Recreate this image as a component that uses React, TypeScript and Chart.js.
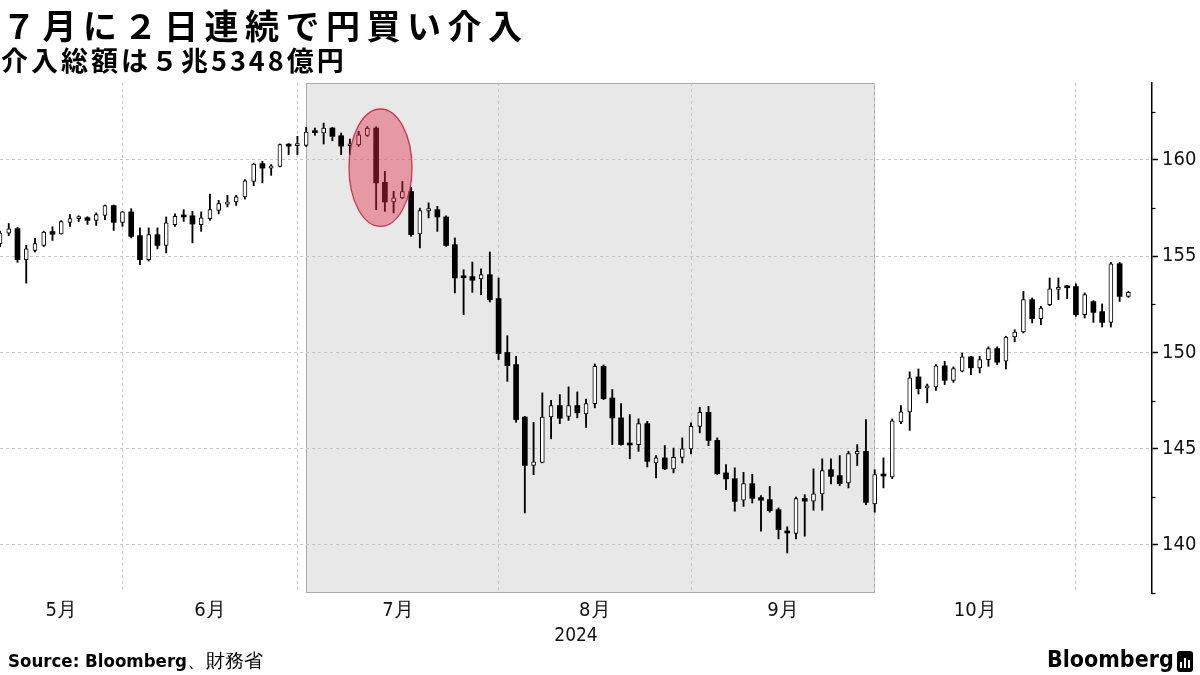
import React, { useEffect, useRef } from 'react';
import { Chart, registerables } from 'chart.js';

Chart.register(...registerables);

// ---- categories: trading days (2024) ----
const monthNumbers = [5, 6, 7, 8, 9, 10, 11];
const mayDays = [13, 14, 15, 16, 17, 20, 21, 22, 23, 24, 27, 28, 29, 30, 31];
const junDays = [3, 4, 5, 6, 7, 10, 11, 12, 13, 14, 17, 18, 19, 20, 21, 24, 25, 26, 27, 28];
const julDays = [1, 2, 3, 4, 5, 8, 9, 10, 11, 12, 15, 16, 17, 18, 19, 22, 23, 24, 25, 26, 29, 30, 31];
const augDays = [1, 2, 5, 6, 7, 8, 9, 12, 13, 14, 15, 16, 19, 20, 21, 22, 23, 26, 27, 28, 29, 30];
const sepDays = [2, 3, 4, 5, 6, 9, 10, 11, 12, 13, 16, 17, 18, 19, 20, 23, 24, 25, 26, 27, 30];
const octDays = [1, 2, 3, 4, 7, 8, 9, 10, 11, 14, 15, 16, 17, 18, 21, 22, 23, 24, 25, 28, 29, 30, 31];
const novDays = [1, 4, 5, 6, 7, 8];
const monthLabels = ['5月', '6月', '7月', '8月', '9月', '10月', ''];
const yearLabel = '2024';

// ---- series: USD/JPY daily OHLC ----
const open = [
  155.65, 156.2, 156.43, 154.82, 155.3, 155.56, 156.28, 156.16, 156.76, 156.95, 157.0, 156.86, 157.12, 157.63, 156.76,
  157.3, 156.07, 154.82, 156.12, 155.56, 156.64, 157.1, 157.1, 156.64, 156.95, 157.38, 157.71, 157.82, 158.08, 158.89, 159.81, 159.58, 159.67, 160.8, 160.74,
  160.76, 161.47, 161.4, 161.66, 161.26, 160.74, 160.78, 161.28, 161.66, 158.84, 157.82, 158.03, 158.36, 156.16, 157.35, 157.42, 157.04, 155.6, 153.94, 153.94, 153.82, 154.04, 152.8,
  150.0, 149.37, 146.64, 144.13, 144.29, 146.65, 147.24, 146.68, 147.24, 146.8, 147.34, 149.28, 147.63, 146.6, 145.24, 145.21, 146.3, 144.26, 144.52, 143.95, 144.55, 144.99,
  146.16, 146.89, 145.43, 143.74, 143.44, 142.32, 143.18, 142.46, 142.35, 141.83, 140.72, 140.59, 142.41, 142.27, 142.65, 143.91, 143.6, 143.22, 144.73, 144.86, 142.13,
  143.65, 143.53, 146.39, 146.91, 148.73, 148.16, 148.21, 149.3, 148.55, 149.02, 149.77, 149.2, 149.63, 150.2, 149.54, 150.8, 151.06, 152.74, 151.76, 152.48, 153.28, 153.4, 153.42,
  151.96, 152.64, 152.12, 151.56, 154.61, 152.91,
];
const high = [
  156.3, 156.7, 156.5, 155.56, 155.93, 156.3, 156.53, 156.85, 157.16, 157.1, 157.05, 157.25, 157.66, 157.66, 157.33,
  157.47, 156.47, 156.47, 156.47, 157.04, 157.2, 157.42, 157.33, 157.3, 158.23, 157.9, 158.16, 158.16, 158.98, 159.84, 159.93, 159.76, 160.83, 160.85, 161.23,
  161.69, 161.66, 161.92, 161.69, 161.4, 161.09, 161.49, 161.73, 161.73, 159.41, 158.37, 158.88, 158.58, 157.5, 157.77, 157.59, 157.1, 155.95, 154.3, 154.7, 154.34, 155.22, 153.87,
  150.87, 149.8, 146.68, 146.37, 147.9, 147.51, 147.81, 148.21, 147.95, 147.58, 149.4, 149.35, 148.07, 147.34, 146.77, 146.55, 146.42, 144.64, 145.16, 145.03, 145.56, 146.34,
  147.15, 147.2, 145.56, 144.17, 144.0, 143.77, 143.67, 142.56, 143.04, 141.92, 140.94, 142.49, 142.61, 143.95, 144.47, 144.47, 144.64, 144.86, 145.21, 146.51, 143.91,
  144.52, 146.54, 147.24, 148.99, 149.14, 148.36, 149.37, 149.54, 149.25, 149.97, 149.8, 149.8, 150.29, 150.29, 150.84, 151.18, 153.18, 152.83, 152.4, 153.87, 153.87, 153.49, 153.57,
  153.09, 152.69, 152.52, 154.68, 154.68, 153.17,
];
const low = [
  155.5, 156.07, 154.68, 153.6, 155.22, 155.5, 155.82, 156.15, 156.55, 156.8, 156.65, 156.6, 156.9, 156.34, 156.55,
  155.95, 154.56, 154.75, 155.38, 155.17, 156.55, 156.81, 155.69, 156.29, 156.86, 157.2, 157.56, 157.64, 157.97, 158.66, 158.81, 159.2, 159.64, 160.28, 160.28,
  160.7, 161.28, 160.83, 161.0, 160.28, 160.28, 160.71, 161.23, 157.42, 157.33, 157.25, 157.99, 156.03, 155.43, 156.99, 156.29, 155.51, 153.09, 151.96, 153.12, 153.0, 152.62, 149.63,
  148.5, 146.37, 141.66, 143.65, 144.26, 145.51, 146.3, 146.47, 146.6, 146.11, 147.12, 147.55, 145.21, 145.18, 144.47, 144.86, 144.05, 143.48, 143.91, 143.74, 144.26, 144.73,
  145.82, 145.16, 143.65, 142.87, 141.75, 142.0, 142.18, 140.71, 141.7, 140.31, 139.58, 140.31, 140.45, 141.8, 141.8, 143.17, 143.08, 142.96, 144.12, 142.09, 141.7,
  142.96, 143.44, 146.3, 145.95, 147.84, 147.38, 148.03, 148.33, 148.45, 148.99, 148.85, 148.93, 149.28, 149.37, 149.14, 150.55, 151.01, 151.53, 151.44, 152.43, 152.74, 152.79, 151.87,
  151.79, 151.56, 151.32, 151.32, 152.65, 152.86,
];
const close = [
  156.2, 156.42, 154.82, 155.38, 155.65, 156.26, 156.14, 156.8, 156.95, 157.02, 156.86, 157.16, 157.63, 156.76, 157.3,
  156.03, 154.82, 156.12, 155.56, 156.73, 157.07, 157.04, 156.67, 156.99, 157.42, 157.73, 157.83, 158.08, 158.92, 159.79, 159.58, 159.7, 160.8, 160.72, 160.85,
  161.45, 161.42, 161.66, 161.23, 160.72, 160.8, 161.31, 161.66, 158.81, 157.82, 158.03, 158.36, 156.12, 157.37, 157.47, 157.04, 155.56, 153.87, 153.88, 153.75, 154.04, 152.74, 149.94,
  149.31, 146.51, 144.13, 144.31, 146.64, 147.24, 146.58, 147.24, 146.86, 147.34, 149.28, 147.6, 146.6, 145.21, 145.19, 146.3, 144.34, 144.52, 143.95, 144.55, 144.99, 146.16,
  146.89, 145.43, 143.7, 143.43, 142.26, 143.18, 142.42, 142.32, 141.78, 140.79, 140.62, 142.41, 142.27, 142.65, 143.86, 143.56, 143.18, 144.74, 144.86, 142.21, 143.65,
  143.58, 146.45, 146.91, 148.68, 148.12, 148.22, 149.3, 148.55, 149.16, 149.77, 149.2, 149.63, 150.2, 149.49, 150.8, 151.06, 152.74, 151.76, 152.31, 153.3, 153.33, 153.36, 151.96,
  153.0, 152.08, 151.56, 154.61, 152.91, 153.12,
];

// ---- axis values ----
const yTickValues = [137.5, 140, 142.5, 145, 147.5, 150, 152.5, 155, 157.5, 160, 162.5];
const yMin = 137.5;
const yMax = 164;
const shadeFrom = '2024-07-01';
const shadeTo = '2024-09-30';
// highlighted intervention days (11-12 July)
const markDates = ['2024-07-11', '2024-07-12'];
const markCenterYen = 159.6;
const markRadiusDays = 3.6;
const markRadiusYen = 3.05;
const rightPadDays = 2.7;

// ---- derived tables ----
const dayLists = [mayDays, junDays, julDays, augDays, sepDays, octDays, novDays];
const dates: string[] = [];
const monthOf: number[] = [];
dayLists.forEach((days, k) => {
  days.forEach((d) => {
    dates.push(`2024-${String(monthNumbers[k]).padStart(2, '0')}-${String(d).padStart(2, '0')}`);
    monthOf.push(k);
  });
});
const lastIdx = dates.length - 1;
const monthEnds: number[] = [];
for (let i = 0; i < lastIdx; i++) if (monthOf[i + 1] !== monthOf[i]) monthEnds.push(i);
const labelPos = new Map<number, string>();
monthEnds.forEach((end, k) => {
  const start = k === 0 ? 0 : monthEnds[k - 1];
  if (monthLabels[k]) labelPos.set((start + end) / 2, monthLabels[k]);
});
const xTickValues = [...monthEnds, ...labelPos.keys()].sort((a, b) => a - b);
const monthEndSet = new Set(monthEnds);

const wickData = dates.map((_, i) => ({ x: i, y: [low[i], high[i]] }));
const upData = dates.map((_, i) => i).filter((i) => close[i] >= open[i]).map((i) => ({ x: i, y: [open[i], close[i]] }));
const downData = dates.map((_, i) => i).filter((i) => close[i] < open[i]).map((i) => ({ x: i, y: [close[i], open[i]] }));

const FONT = '"DejaVu Sans Condensed", "DejaVu Sans", sans-serif';
const GRID = '#c6c6c6';

const overlayPlugin = {
  id: 'overlay',
  beforeDraw(chart: any) {
    const { ctx, chartArea, scales } = chart;
    const x = scales.x;
    const x0 = x.getPixelForValue(dates.indexOf(shadeFrom));
    const x1 = x.getPixelForValue(dates.indexOf(shadeTo));
    ctx.save();
    ctx.fillStyle = '#e8e8e8';
    ctx.fillRect(x0, chartArea.top, x1 - x0, chartArea.bottom - chartArea.top);
    ctx.strokeStyle = '#a9a9a9';
    ctx.lineWidth = 1;
    ctx.strokeRect(Math.round(x0) + 0.5, chartArea.top + 0.5, Math.round(x1 - x0) - 1, chartArea.bottom - chartArea.top - 1);
    ctx.restore();
  },
  afterDatasetsDraw(chart: any) {
    const { ctx, scales } = chart;
    const x = scales.x;
    const y = scales.y;
    const ci = (dates.indexOf(markDates[0]) + dates.indexOf(markDates[1])) / 2;
    const cx = x.getPixelForValue(ci);
    const cy = y.getPixelForValue(markCenterYen);
    const rx = Math.abs(x.getPixelForValue(ci + markRadiusDays) - cx);
    const ry = Math.abs(y.getPixelForValue(markCenterYen + markRadiusYen) - cy);
    ctx.save();
    ctx.beginPath();
    ctx.ellipse(cx, cy, rx, ry, 0, 0, Math.PI * 2);
    ctx.fillStyle = 'rgba(222, 42, 70, 0.42)';
    ctx.fill();
    ctx.strokeStyle = 'rgba(200, 40, 70, 0.9)';
    ctx.lineWidth = 1.3;
    ctx.stroke();
    ctx.restore();
  },
  afterDraw(chart: any) {
    const { ctx, chartArea, scales } = chart;
    const y = scales.y;
    ctx.save();
    ctx.strokeStyle = '#000';
    ctx.lineWidth = 1.2;
    yTickValues.filter((v) => v % 5 !== 0).forEach((v) => {
      const py = Math.round(y.getPixelForValue(v)) + 0.5;
      ctx.beginPath();
      ctx.moveTo(chartArea.right, py);
      ctx.lineTo(chartArea.right + 3.5, py);
      ctx.stroke();
    });
    ctx.restore();
  },
};

export default function App() {
  const ref = useRef<HTMLCanvasElement>(null);
  useEffect(() => {
    document.body.style.margin = '0';
    const chart = new Chart(ref.current as HTMLCanvasElement, {
      type: 'bar',
      data: {
        datasets: [
          {
            label: 'down',
            data: downData as any,
            backgroundColor: '#000',
            borderWidth: 0,
            barThickness: 5,
            minBarLength: 2,
            grouped: false,
            order: 1,
          },
          {
            label: 'up',
            data: upData as any,
            backgroundColor: '#fff',
            borderColor: '#000',
            borderWidth: 1,
            borderSkipped: false,
            barThickness: 4,
            minBarLength: 2,
            grouped: false,
            order: 2,
          },
          {
            label: 'wick',
            data: wickData as any,
            backgroundColor: '#000',
            borderWidth: 0,
            barThickness: 1.2,
            grouped: false,
            order: 3,
          },
        ],
      },
      options: {
        animation: false,
        responsive: false,
        maintainAspectRatio: false,
        layout: { padding: { top: 83, left: 0, right: 0, bottom: 0 } },
        plugins: { legend: { display: false }, tooltip: { enabled: false } },
        scales: {
          x: {
            type: 'linear',
            min: 0,
            max: lastIdx + rightPadDays,
            offset: false,
            afterBuildTicks: (scale: any) => {
              scale.ticks = xTickValues.map((v) => ({ value: v }));
            },
            afterFit: (scale: any) => {
              scale.height = 82;
            },
            ticks: {
              autoSkip: false,
              maxRotation: 0,
              padding: 6,
              color: '#111',
              font: { family: FONT, size: 20 },
              callback: (v: any) => labelPos.get(Number(v)) ?? '',
            },
            grid: {
              offset: false,
              drawTicks: false,
              color: (c: any) => (c.tick && monthEndSet.has(c.tick.value) ? GRID : 'rgba(0,0,0,0)'),
              lineWidth: 1,
            },
            border: { display: false, dash: [3, 3] },
            title: {
              display: true,
              text: yearLabel,
              color: '#111',
              font: { family: FONT, size: 19 },
              padding: { top: 0, bottom: 28 },
            },
          },
          y: {
            type: 'linear',
            position: 'right',
            min: yMin,
            max: yMax,
            afterBuildTicks: (scale: any) => {
              scale.ticks = yTickValues.map((v) => ({ value: v }));
            },
            afterFit: (scale: any) => {
              scale.width = 48;
            },
            ticks: {
              padding: 4,
              color: '#111',
              font: { family: FONT, size: 20 },
              callback: (v: any) => (Number(v) % 5 === 0 ? String(v) : ''),
            },
            grid: {
              color: (c: any) => (c.tick && c.tick.value % 5 === 0 ? GRID : 'rgba(0,0,0,0)'),
              tickColor: (c: any) => (c.tick && c.tick.value % 5 === 0 ? '#000' : 'rgba(0,0,0,0)'),
              tickLength: 6,
              tickWidth: 1.5,
              lineWidth: 1,
            },
            border: { display: true, color: '#000', width: 1.5, dash: [3, 3] },
          },
        },
      },
      plugins: [overlayPlugin],
    } as any);
    return () => chart.destroy();
  }, []);

  return (
    <div style={{ position: 'relative', width: 1200, height: 675, background: '#fff', overflow: 'hidden' }}>
      <canvas ref={ref} width={1200} height={675} style={{ position: 'absolute', left: 0, top: 0, width: 1200, height: 675 }} />
      <div
        style={{
          position: 'absolute', left: 2, top: 8, fontFamily: '"Noto Sans CJK JP", sans-serif', fontWeight: 700,
          fontSize: 34, lineHeight: '34px', letterSpacing: 6.5, color: '#000', whiteSpace: 'nowrap',
        }}
      >
        ７月に２日連続で円買い介入
      </div>
      <div
        style={{
          position: 'absolute', left: 1, top: 46, fontFamily: '"Noto Sans CJK JP", sans-serif', fontWeight: 700,
          fontSize: 27, lineHeight: '27px', letterSpacing: 3, color: '#000', whiteSpace: 'nowrap',
        }}
      >
        介入総額は５兆5348億円
      </div>
      <div
        style={{
          position: 'absolute', left: 8, top: 651, fontFamily: FONT, fontSize: 18.5, lineHeight: '20px', color: '#000', whiteSpace: 'nowrap',
        }}
      >
        <span style={{ fontWeight: 700 }}>Source: Bloomberg</span>
        <span>、財務省</span>
      </div>
      <div
        style={{
          position: 'absolute', left: 1047, top: 646, fontFamily: FONT, fontWeight: 700, fontSize: 23, lineHeight: '26px', color: '#000', whiteSpace: 'nowrap',
        }}
      >
        Bloomberg
      </div>
      <div
        style={{
          position: 'absolute', left: 1177, top: 651, width: 16, height: 21, background: '#000', borderRadius: 3,
          display: 'flex', alignItems: 'flex-end', justifyContent: 'center', gap: 2, paddingBottom: 4, boxSizing: 'border-box',
        }}
      >
        <div style={{ width: 2, height: 6, background: '#fff' }} />
        <div style={{ width: 2, height: 10, background: '#fff' }} />
        <div style={{ width: 2, height: 8, background: '#fff' }} />
      </div>
    </div>
  );
}
